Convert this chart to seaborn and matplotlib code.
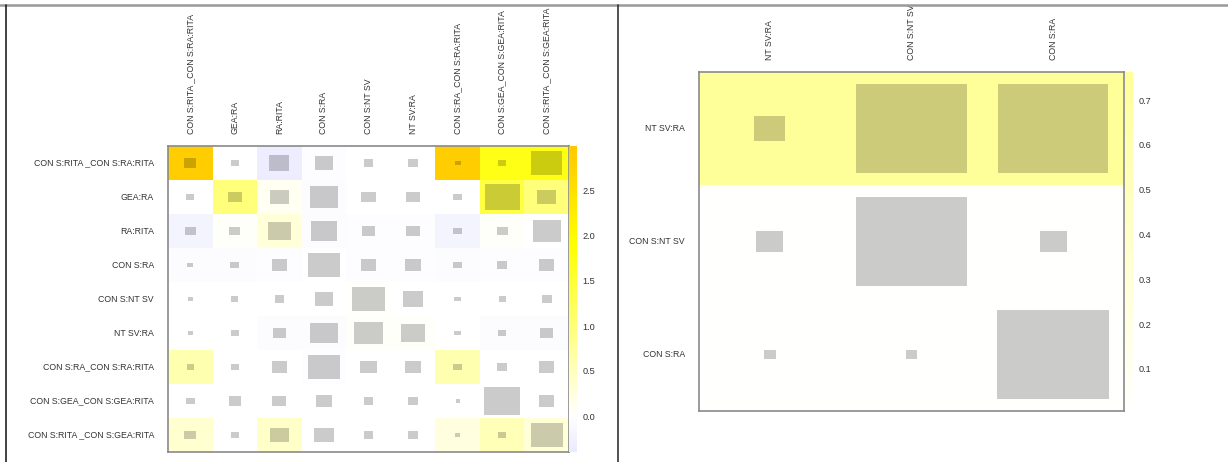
import numpy as np
import pandas as pd
import seaborn as sns
import matplotlib
matplotlib.use("Agg")
import matplotlib.pyplot as plt
from matplotlib.colors import ListedColormap, to_rgb
from matplotlib.patches import Rectangle
from matplotlib.lines import Line2D

# ---------------- data ----------------
left_labels = [
    "CON S:RITA _CON S:RA:RITA", "GEA:RA", "RA:RITA", "CON S:RA", "CON S:NT SV",
    "NT SV:RA", "CON S:RA_CON S:RA:RITA", "CON S:GEA_CON S:GEA:RITA",
    "CON S:RITA _CON S:GEA:RITA",
]
left_values = [
    [2.90, 0.00, -0.33, -0.03, 0.00, 0.00, 2.90, 1.75, 1.75],
    [0.00, 1.00, 0.10, -0.05, 0.00, 0.00, 0.00, 1.40, 1.00],
    [-0.20, 0.05, 0.30, -0.05, -0.03, -0.03, -0.20, 0.05, 0.00],
    [-0.05, -0.05, -0.03, 0.00, -0.03, -0.03, -0.05, -0.03, -0.03],
    [0.00, 0.00, 0.00, 0.00, 0.03, 0.00, 0.00, 0.00, 0.00],
    [0.00, 0.00, -0.05, -0.05, 0.05, 0.05, 0.00, -0.05, -0.05],
    [0.59, 0.00, 0.00, -0.03, 0.00, 0.00, 0.59, 0.00, 0.00],
    [0.00, 0.00, 0.00, 0.00, 0.00, 0.00, 0.00, 0.00, 0.00],
    [0.35, 0.00, 0.42, 0.00, 0.00, 0.00, 0.24, 0.53, 0.30],
]
left_sizes = [
    [0.27, 0.18, 0.45, 0.42, 0.22, 0.24, 0.13, 0.18, 0.70],
    [0.18, 0.32, 0.42, 0.63, 0.32, 0.32, 0.19, 0.78, 0.42],
    [0.25, 0.25, 0.52, 0.58, 0.31, 0.31, 0.19, 0.25, 0.63],
    [0.13, 0.20, 0.33, 0.71, 0.34, 0.34, 0.19, 0.21, 0.33],
    [0.11, 0.15, 0.21, 0.41, 0.73, 0.45, 0.14, 0.15, 0.23],
    [0.11, 0.19, 0.29, 0.61, 0.66, 0.53, 0.14, 0.19, 0.30],
    [0.16, 0.19, 0.33, 0.71, 0.36, 0.36, 0.20, 0.21, 0.34],
    [0.19, 0.27, 0.31, 0.36, 0.22, 0.22, 0.09, 0.80, 0.34],
    [0.26, 0.18, 0.44, 0.43, 0.21, 0.22, 0.10, 0.18, 0.71],
]
left_ticks = [0.0, 0.5, 1.0, 1.5, 2.0, 2.5]
left_range = (-0.40, 3.00)

right_labels = ["NT SV:RA", "CON S:NT SV", "CON S:RA"]
right_values = [
    [0.76, 0.76, 0.76],
    [0.02, 0.02, 0.02],
    [0.006, 0.006, 0.006],
]
right_sizes = [
    [0.22, 0.78, 0.78],
    [0.19, 0.78, 0.19],
    [0.08, 0.08, 0.79],
]
right_ticks = [0.1, 0.2, 0.3, 0.4, 0.5, 0.6, 0.7]
right_range = (0.006, 0.763)

# colour anchors on the absolute value scale
anchor_vals = [-0.4, 0.0, 1.9, 3.0]
anchor_cols = ["#eaeaff", "#ffffff", "#ffff00", "#ffc800"]


def make_cmap(vmin, vmax):
    vals = np.linspace(vmin, vmax, 256)
    rgb = np.array([to_rgb(c) for c in anchor_cols])
    cols = np.stack([np.interp(vals, anchor_vals, rgb[:, k]) for k in range(3)], axis=1)
    return ListedColormap(cols)


# ---------------- figure ----------------
sns.set_theme(style="white")
plt.rcParams["font.family"] = ["Liberation Sans", "DejaVu Sans"]

W, H = 1228, 462
fig = plt.figure(figsize=(W / 100, H / 100), dpi=100)


def px_axes(x0, y0, x1, y1):
    return fig.add_axes([x0 / W, 1 - y1 / H, (x1 - x0) / W, (y1 - y0) / H])


def draw_panel(ax, cax, labels, values, sizes, ticks, vrange):
    df = pd.DataFrame(values, index=labels, columns=labels)
    vmin, vmax = vrange
    sns.heatmap(df, ax=ax, cbar_ax=cax, cmap=make_cmap(vmin, vmax),
                vmin=vmin, vmax=vmax, xticklabels=labels, yticklabels=labels,
                cbar_kws={"ticks": ticks, "format": "%.1f"})
    n = len(labels)
    for i in range(n):
        for j in range(n):
            s = sizes[i][j]
            ax.add_patch(Rectangle((j + 0.5 - s / 2, i + 0.5 - s / 2), s, s,
                                   facecolor="black", alpha=0.205, lw=0))
    ax.xaxis.tick_top()
    ax.tick_params(axis="both", length=0, labelsize=6.3, colors="#333333")
    ax.tick_params(axis="x", pad=9)
    ax.tick_params(axis="y", pad=10)
    for lab in ax.get_xticklabels():
        lab.set_rotation(90)
        lab.set_ha("center")
        lab.set_va("bottom")
    for lab in ax.get_yticklabels():
        lab.set_rotation(0)
    for sp in ax.spines.values():
        sp.set_visible(True)
        sp.set_color("#8a8a8a")
        sp.set_linewidth(1.2)
    cb = ax.collections[0].colorbar
    cb.outline.set_visible(False)
    cax.tick_params(length=0, labelsize=6.6, colors="#333333", pad=4)


ax1 = px_axes(168, 146, 569, 452)
cax1 = px_axes(569, 146, 577, 452)
draw_panel(ax1, cax1, left_labels, left_values, left_sizes, left_ticks, left_range)

ax2 = px_axes(699, 72, 1124, 411)
cax2 = px_axes(1125, 72, 1133, 411)
draw_panel(ax2, cax2, right_labels, right_values, right_sizes, right_ticks, right_range)

# frame lines of the screenshot
fig.add_artist(Line2D([0, 1], [1 - 5 / H, 1 - 5 / H], transform=fig.transFigure,
                      color="#999999", lw=1.8))
fig.add_artist(Line2D([5.5 / W, 5.5 / W], [0, 1 - 5 / H], transform=fig.transFigure,
                      color="#222222", lw=1.2))
fig.add_artist(Line2D([618 / W, 618 / W], [0, 1 - 5 / H], transform=fig.transFigure,
                      color="#333333", lw=1.2))

fig.savefig("out.png", dpi=100)
